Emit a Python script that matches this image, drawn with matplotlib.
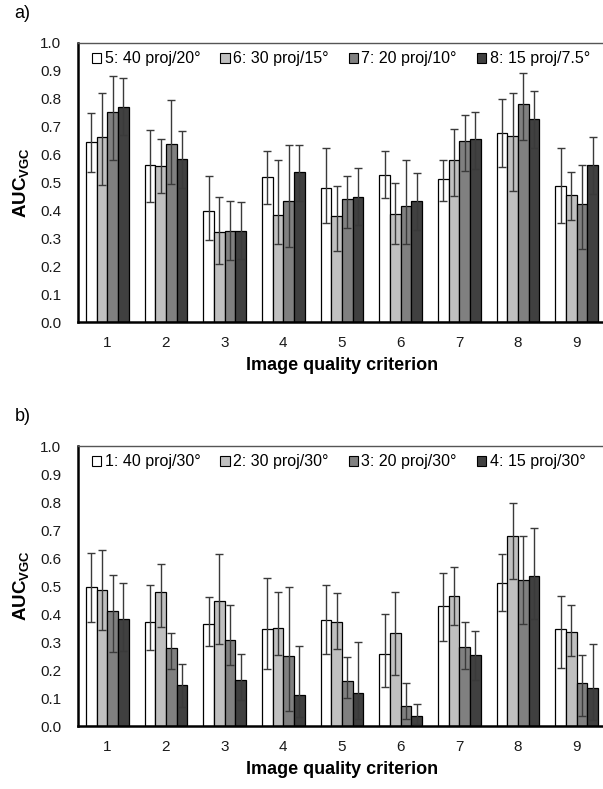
import matplotlib
matplotlib.use("Agg")
import matplotlib.pyplot as plt
import numpy as np
from matplotlib.patches import Patch

plt.rcParams['font.family'] = ['Liberation Sans', 'DejaVu Sans']
plt.rcParams['mathtext.fontset'] = 'custom'
plt.rcParams['mathtext.rm'] = 'Liberation Sans'
plt.rcParams['mathtext.bf'] = 'Liberation Sans:bold'

criteria = ['1', '2', '3', '4', '5', '6', '7', '8', '9']
yticks = [0.0, 0.1, 0.2, 0.3, 0.4, 0.5, 0.6, 0.7, 0.8, 0.9, 1.0]

# Panel a
labels_a = ['5: 40 proj/20°', '6: 30 proj/15°', '7: 20 proj/10°', '8: 15 proj/7.5°']
a_val = [
    [0.645, 0.563, 0.398, 0.519, 0.481, 0.527, 0.512, 0.676, 0.488],
    [0.662, 0.560, 0.324, 0.383, 0.380, 0.387, 0.582, 0.667, 0.456],
    [0.752, 0.637, 0.327, 0.433, 0.442, 0.414, 0.649, 0.781, 0.423],
    [0.770, 0.586, 0.327, 0.538, 0.449, 0.433, 0.656, 0.726, 0.562],
]
a_lo = [
    [0.539, 0.429, 0.293, 0.424, 0.355, 0.443, 0.433, 0.554, 0.355],
    [0.492, 0.464, 0.207, 0.281, 0.254, 0.279, 0.452, 0.469, 0.367],
    [0.579, 0.495, 0.221, 0.269, 0.336, 0.281, 0.543, 0.652, 0.261],
    [0.671, 0.481, 0.226, 0.433, 0.349, 0.331, 0.550, 0.623, 0.460],
]
a_hi = [
    [0.749, 0.687, 0.523, 0.613, 0.624, 0.613, 0.582, 0.800, 0.624],
    [0.819, 0.655, 0.449, 0.582, 0.487, 0.500, 0.690, 0.819, 0.538],
    [0.882, 0.796, 0.433, 0.636, 0.523, 0.582, 0.742, 0.893, 0.562],
    [0.874, 0.683, 0.430, 0.636, 0.551, 0.535, 0.754, 0.827, 0.662],
]

# Panel b
labels_b = ['1: 40 proj/30°', '2: 30 proj/30°', '3: 20 proj/30°', '4: 15 proj/30°']
b_val = [
    [0.497, 0.370, 0.366, 0.346, 0.378, 0.258, 0.429, 0.510, 0.346],
    [0.486, 0.479, 0.448, 0.350, 0.370, 0.332, 0.463, 0.680, 0.336],
    [0.412, 0.277, 0.307, 0.249, 0.162, 0.072, 0.281, 0.520, 0.154],
    [0.382, 0.145, 0.165, 0.110, 0.118, 0.037, 0.254, 0.537, 0.137],
]
b_lo = [
    [0.373, 0.272, 0.285, 0.203, 0.258, 0.141, 0.304, 0.412, 0.207],
    [0.343, 0.355, 0.293, 0.254, 0.275, 0.183, 0.362, 0.526, 0.249],
    [0.265, 0.203, 0.219, 0.052, 0.099, 0.025, 0.203, 0.363, 0.037],
    [0.268, 0.067, 0.092, 0.033, 0.025, 0.006, 0.165, 0.382, 0.021],
]
b_hi = [
    [0.618, 0.502, 0.460, 0.529, 0.505, 0.400, 0.545, 0.613, 0.466],
    [0.627, 0.579, 0.615, 0.479, 0.474, 0.479, 0.567, 0.795, 0.431],
    [0.540, 0.331, 0.431, 0.497, 0.246, 0.152, 0.373, 0.680, 0.254],
    [0.510, 0.222, 0.258, 0.284, 0.299, 0.079, 0.338, 0.708, 0.293],
]

colors = ['#ffffff', '#c0c0c0', '#808080', '#404040']
W, H = 603, 789
fig = plt.figure(figsize=(W / 100, H / 100), dpi=100)

def px_axes(left, top, right, bottom):
    return fig.add_axes([left / W, 1 - bottom / H, (right - left) / W, (bottom - top) / H])

def draw(ax, vals, lo, hi, labels, panel):
    x = np.arange(1, len(criteria) + 1)
    bw = 0.181
    for i in range(4):
        v = np.array(vals[i]); l = np.array(lo[i]); h = np.array(hi[i])
        xs = x + (i - 1.5) * bw
        ax.bar(xs, v, width=bw, color=colors[i], edgecolor='black', linewidth=0.9, zorder=2)
        ax.errorbar(xs, v, yerr=[v - l, h - v], fmt='none', ecolor='#3a3a3a',
                    elinewidth=1.0, capsize=3, capthick=1.0, zorder=3)
    ax.set_xlim(0.5, 9.5)
    ax.set_ylim(0, 1.0)
    ax.set_xticks(x)
    ax.set_xticklabels(criteria)
    ax.set_yticks(yticks)
    ax.set_yticklabels([f'{t:.1f}' for t in yticks])
    ax.tick_params(axis='both', length=0, labelsize=11, colors='#1a1a1a')
    ax.tick_params(axis='y', pad=12)
    ax.tick_params(axis='x', pad=10)
    for s in ['left', 'bottom']:
        ax.spines[s].set_linewidth(1.8)
        ax.spines[s].set_color('black')
    ax.spines['top'].set_linewidth(1.0)
    ax.spines['top'].set_color('#555555')
    ax.spines['right'].set_visible(False)
    ax.set_xlabel('Image quality criterion', fontsize=13, fontweight='bold', labelpad=5)
    ax.set_ylabel(r'$\mathbf{AUC}_{\mathbf{VGC}}$', fontsize=13.5, labelpad=6)
    handles = [Patch(facecolor=c, edgecolor='black', linewidth=0.8) for c in colors]
    ax.legend(handles, labels, loc='upper left', bbox_to_anchor=(0.005, 1.01), ncol=4,
              frameon=False, fontsize=11.5, handlelength=0.6, handleheight=0.6,
              handletextpad=0.2, columnspacing=1.25, borderaxespad=0.3)
    ax.text(-0.12, 1.105, panel, transform=ax.transAxes, fontsize=13, ha='left', va='center')

ax_a = px_axes(78, 43, 606, 322)
draw(ax_a, a_val, a_lo, a_hi, labels_a, 'a)')
ax_b = px_axes(78, 446, 606, 726)
draw(ax_b, b_val, b_lo, b_hi, labels_b, 'b)')

fig.savefig('out.png', dpi=100)
